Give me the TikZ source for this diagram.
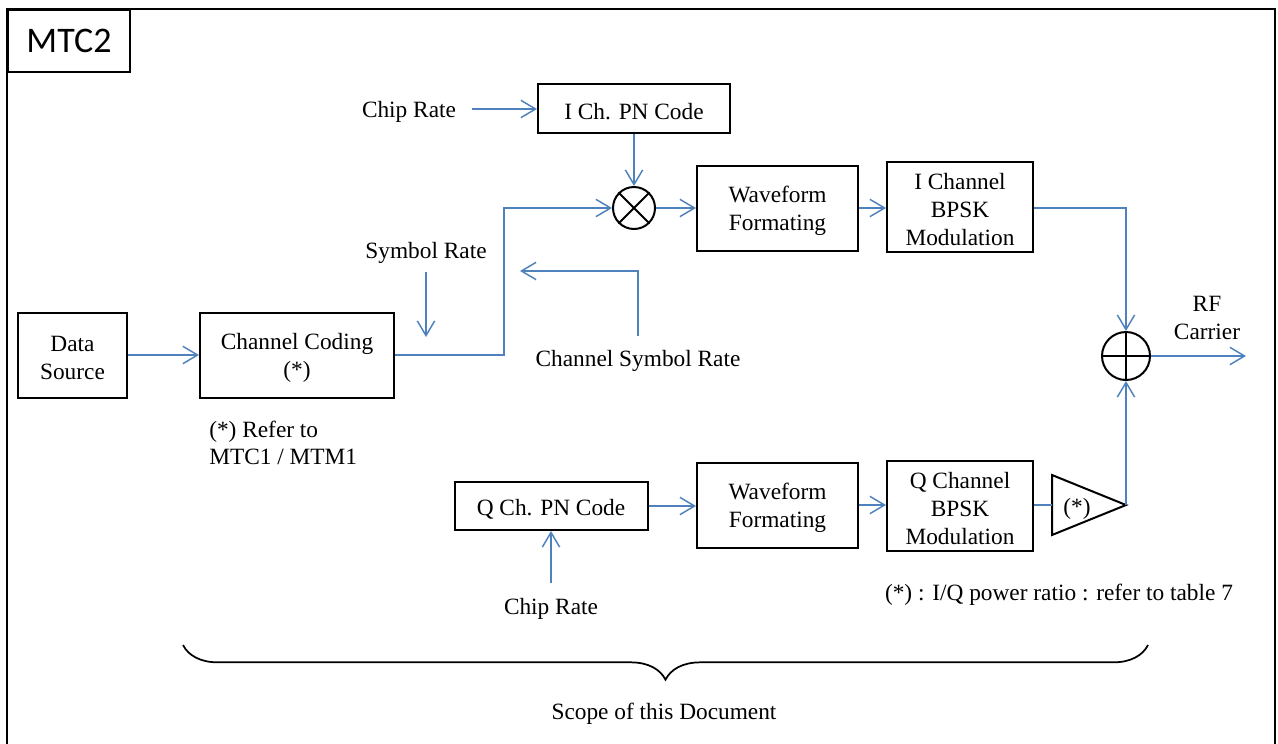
\documentclass[tikz,border=0pt]{standalone}
\usepackage{fontspec}
\setmainfont{Liberation Serif}
\newfontfamily\calibri{Carlito}
\usetikzlibrary{arrows.meta,decorations.pathreplacing}
\definecolor{lineblue}{RGB}{79,129,189}
\tikzset{
  txt/.style={font=\fontsize{17.5}{21}\selectfont, inner sep=0pt, align=center, yshift=-2.2pt},
  box/.style={draw, line width=1.5pt, inner sep=0pt},
  arr/.style={draw=lineblue, line width=1.1pt, -{Straight Barb[length=11pt,width=13pt]}},
  plain/.style={draw=lineblue, line width=1.1pt},
  op/.style={circle, draw, line width=1.5pt, inner sep=0pt}
}
\begin{document}
\begin{tikzpicture}[x=0.75pt,y=-0.75pt]
\useasboundingbox (0,0) rectangle (1278,743);
% outer frame
\draw[line width=2.2pt] (7,770) -- (7,9) -- (1275,9) -- (1275,770);
\node[draw, line width=2pt, minimum width=91.5pt, minimum height=46.5pt, inner sep=0pt, font=\calibri\fontsize{27}{30}\selectfont] (title) at (69,41) {MTC2};

% boxes
\node[box, minimum width=81.75pt, minimum height=63.75pt] (ds) at (72.5,355) {};
\node[txt] at (ds) {Data\\Source};
\node[box, minimum width=145.5pt, minimum height=63.75pt] (cc) at (297,355) {};
\node[txt] at (cc) {Channel Coding\\(*)};
\node[box, minimum width=144pt, minimum height=36.75pt] (ipn) at (634,108.5) {};
\node[txt] at (ipn) {I Ch. PN Code};
\node[box, minimum width=120.75pt, minimum height=63.75pt] (wf1) at (777.5,208) {};
\node[txt] at (wf1) {Waveform\\Formating};
\node[box, minimum width=109.5pt, minimum height=67.5pt] (ich) at (960,207) {};
\node[txt] at (ich) {I Channel\\BPSK\\Modulation};
\node[box, minimum width=144.75pt, minimum height=36pt] (qpn) at (551,506) {};
\node[txt] at (qpn) {Q Ch. PN Code};
\node[box, minimum width=120.75pt, minimum height=63.75pt] (wf2) at (777.5,505) {};
\node[txt] at (wf2) {Waveform\\Formating};
\node[box, minimum width=109.5pt, minimum height=67.5pt] (qch) at (960,506) {};
\node[txt] at (qch) {Q Channel\\BPSK\\Modulation};

% multiplier and adder
\node[op, minimum size=31.5pt] (mul) at (634,208) {};
\draw[line width=1.5pt] (mul.north west) -- (mul.south east) (mul.north east) -- (mul.south west);
\node[op, minimum size=36pt] (add) at (1126,356) {};
\draw[line width=1.5pt] (add.north) -- (add.south) (add.west) -- (add.east);

% amplifier
\coordinate (ampL) at (1052,505);
\coordinate (ampT) at (1126,505);
\draw[line width=1.5pt] (1052,475) -- (ampT) -- (1052,535) -- cycle;
\node[txt] (amplab) at (1077,506) {(*)};

% labels
\node[txt] (cr1) at (409,109) {Chip Rate};
\node[txt] (sr) at (426,250) {Symbol Rate};
\node[txt] (csr) at (638,358) {Channel Symbol Rate};
\node[txt] (rf) at (1207,315) {RF\\Carrier};
\node[txt] (cr2) at (551,606) {Chip Rate};
\node[txt, anchor=west] (ref1) at (209,429) {(*) Refer to};
\node[txt, anchor=west] (ref2) at (209,454) {MTC1 / MTM1};
\node[txt] (pr) at (1059,592) {(*) : I/Q power ratio : refer to table 7};
\node[txt] (scope) at (664,711) {Scope of this Document};

% helper coordinates
\coordinate (j1) at (504,208);
\coordinate (srS) at (426,272);
\coordinate (srE) at (426,337);
\coordinate (csrS) at (638,336);
\coordinate (csrE) at (520,271);
\coordinate (cr1S) at (472,109);
\coordinate (cr2S) at (551,583);
\coordinate (rfout) at (1246,356);

% connectors
\draw[arr] (ds.east) -- (cc.west);
\draw[arr] (cc.east) -| (j1) -- (mul.west);
\draw[arr] (srS) -- (srE);
\draw[arr] (csrS) |- (csrE);
\draw[arr] (cr1S) -- (cr1S -| ipn.west);
\draw[arr] (ipn.south) -- (mul.north);
\draw[arr] (mul.east) -- (wf1.west);
\draw[arr] (wf1.east) -- (wf1.east -| ich.west);
\draw[arr] (ich.east |- wf1.east) -| (add.north);
\draw[arr] (add.east) -- (rfout);
\draw[arr] (qpn.east) -- (qpn.east -| wf2.west);
\draw[arr] (wf2.east) -- (wf2.east -| qch.west);
\draw[plain] (qch.east |- ampL) -- (ampL);
\draw[arr] (ampT) -- (add.south);
\draw[arr] (cr2S) -- (cr2S |- qpn.south);

% brace
\draw[line width=1.3pt, decorate, decoration={brace, amplitude=26pt}] (1148,645) -- (183,645);
\end{tikzpicture}
\end{document}
